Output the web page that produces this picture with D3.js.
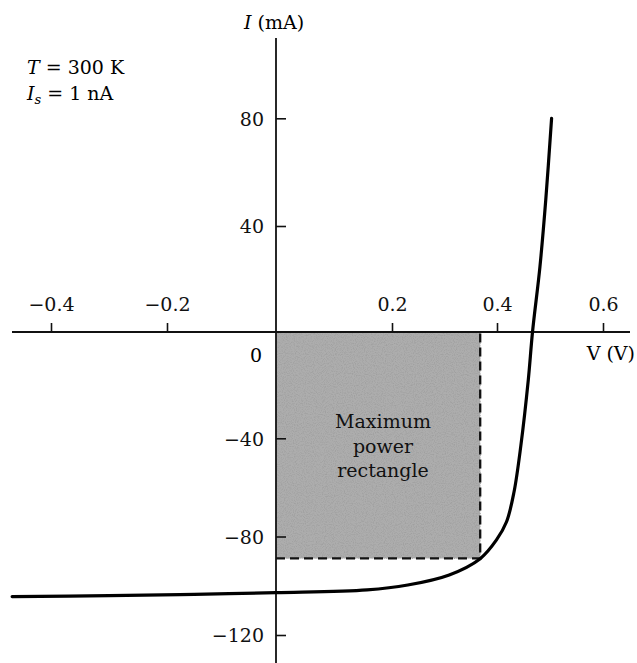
<!DOCTYPE html>
<html>
<head>
<meta charset="utf-8">
<script src="https://cdn.jsdelivr.net/npm/d3@7"></script>
<style>
	body { margin: 0; background: #fff; }
	svg { display: block; font-family: "DejaVu Serif", serif; }
	.tick text { font-size: 19px; fill: #111; font-family: "DejaVu Serif", serif; }
	.tick line { stroke: #111; stroke-width: 1.6; }
</style>
</head>
<body>
<div id="plot-ui"></div>
<script>
// values
let voltage = [-0.467, -0.3, -0.15, 0, 0.157, 0.230, 0.309, 0.368, 0.399, 0.418, 0.432, 0.445, 0.459, 0.467, 0.481, 0.492, 0.503];
let current = [-104.4, -104.0, -103.5, -102.8, -101.7, -99.7, -95.6, -89.0, -81.4, -74.0, -62.0, -43.0, -18.1, 0, 24.6, 49.7, 80];

let xTicks = [-0.4, -0.2, 0.2, 0.4, 0.6];
let yTicks = [80, 40, -40, -80, -120];

// maximum power point
let vMax = 0.368,
	iMax = -88.9;

let width = 637,
	height = 663;

let svg = d3.select('#plot-ui').append('svg')
	.attr('width', width)
	.attr('height', height);

// the hand drawn axes are not quite even, so piecewise scales
let x = d3.scaleLinear()
	.domain([-0.4, -0.2, 0, 0.2, 0.4, 0.6])
	.range([51, 167, 276, 392, 497, 603]);

let y = d3.scaleLinear()
	.domain([-120, -80, -40, 0, 40, 80])
	.range([635, 536.5, 438.3, 332, 226, 118.3]);

let minus = function(d) {
	return d3.format('.1f')(d).replace('-', '\u2212');
};

// grainy fill
let defs = svg.append('defs');
let grain = defs.append('filter').attr('id', 'grain')
	.attr('filterUnits', 'userSpaceOnUse')
	.attr('x', x(0)).attr('y', y(0))
	.attr('width', x(vMax) - x(0)).attr('height', y(iMax) - y(0));
grain.append('feTurbulence')
	.attr('type', 'fractalNoise')
	.attr('baseFrequency', 0.9)
	.attr('numOctaves', 2)
	.attr('seed', 3)
	.attr('result', 'noise');
grain.append('feColorMatrix')
	.attr('in', 'noise')
	.attr('type', 'matrix')
	.attr('values', '0 0 0 0 0.35  0 0 0 0 0.35  0 0 0 0 0.35  0 0 0 2.5 -1.05');

// maximum power rectangle
svg.append('rect')
	.attr('x', x(0))
	.attr('y', y(0))
	.attr('width', x(vMax) - x(0))
	.attr('height', y(iMax) - y(0))
	.attr('fill', '#adadad');

svg.append('rect')
	.attr('x', x(0))
	.attr('y', y(0))
	.attr('width', x(vMax) - x(0))
	.attr('height', y(iMax) - y(0))
	.attr('fill', '#000')
	.attr('filter', 'url(#grain)');

svg.append('path')
	.attr('d', 'M' + x(0) + ',' + y(iMax) + 'H' + x(vMax) + 'V' + y(0))
	.attr('fill', 'none')
	.attr('stroke', '#111')
	.attr('stroke-width', 2.3)
	.attr('stroke-dasharray', '9,5');

let rectLabel = svg.append('text')
	.attr('text-anchor', 'middle')
	.attr('font-size', 19)
	.attr('fill', '#111');
['Maximum', 'power', 'rectangle'].forEach(function(t, i) {
	rectLabel.append('tspan')
		.attr('x', 383)
		.attr('y', 428 + i * 24.5)
		.text(t);
});

// axes lines
svg.append('line')
	.attr('x1', 12).attr('x2', 630)
	.attr('y1', y(0)).attr('y2', y(0))
	.attr('stroke', '#111')
	.attr('stroke-width', 2.2);

svg.append('line')
	.attr('x1', x(0)).attr('x2', x(0))
	.attr('y1', 38).attr('y2', height)
	.attr('stroke', '#111')
	.attr('stroke-width', 1.8);

let xAxis = d3.axisTop()
	.scale(x)
	.tickValues(xTicks)
	.tickFormat(minus)
	.tickSize(9)
	.tickPadding(12);

let yAxis = d3.axisLeft()
	.scale(y)
	.tickValues(yTicks)
	.tickFormat(function(d) { return String(d).replace('-', '\u2212'); })
	.tickSizeInner(-10)
	.tickSizeOuter(0)
	.tickPadding(12);

svg.append('g')
	.attr('transform', 'translate(0,' + y(0) + ')')
	.call(xAxis)
	.call(function(g) { g.select('.domain').remove(); });

svg.append('g')
	.attr('transform', 'translate(' + x(0) + ',0)')
	.call(yAxis)
	.call(function(g) { g.select('.domain').remove(); })
	.selectAll('text')
	.attr('dy', '0.36em');

// I-V curve
let line = d3.line()
	.x(function(d) { return x(d[0]); })
	.y(function(d) { return y(d[1]); })
	.curve(d3.curveCatmullRom.alpha(0.5));

svg.append('path')
	.datum(d3.zip(voltage, current))
	.attr('d', line)
	.attr('fill', 'none')
	.attr('stroke', '#000')
	.attr('stroke-width', 3.2)
	.attr('stroke-linecap', 'round');

// labels
svg.append('text')
	.attr('x', 262).attr('y', 362)
	.attr('text-anchor', 'end')
	.attr('font-size', 19)
	.text('0');

svg.append('text')
	.attr('x', 635).attr('y', 360)
	.attr('text-anchor', 'end')
	.attr('font-size', 19)
	.text('V (V)');

let iLabel = svg.append('text')
	.attr('x', 244).attr('y', 29)
	.attr('font-size', 19);
iLabel.append('tspan').attr('font-style', 'italic').text('I');
iLabel.append('tspan').text(' (mA)');

let tLabel = svg.append('text')
	.attr('x', 27).attr('y', 74)
	.attr('font-size', 19);
tLabel.append('tspan').attr('font-style', 'italic').text('T');
tLabel.append('tspan').text(' = 300 K');

let sLabel = svg.append('text')
	.attr('x', 27).attr('y', 100)
	.attr('font-size', 19);
sLabel.append('tspan').attr('font-style', 'italic').text('I');
sLabel.append('tspan').attr('font-style', 'italic').attr('font-size', 13).attr('dy', 4).text('s');
sLabel.append('tspan').attr('dy', -4).text(' = 1 nA');
</script>
</body>
</html>
